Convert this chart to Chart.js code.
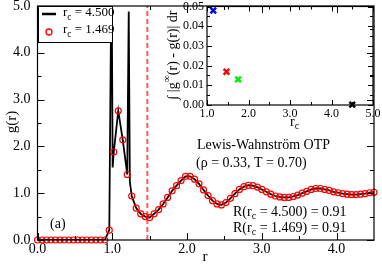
<!DOCTYPE html>
<html>
<head>
<meta charset="utf-8">
<script src="https://cdn.jsdelivr.net/npm/chart.js@4.4.1/dist/chart.umd.min.js"></script>
<style>
    html, body { margin: 0; padding: 0; background: #fff; }
    #wrap { position: relative; width: 382px; height: 264px; }
    #main { position: absolute; left: 0; top: 0; }
    #inset { position: absolute; left: 160px; top: 0; }
</style>
</head>
<body>
<div id="wrap">
    <canvas id="main" width="382" height="264"></canvas>
    <canvas id="inset" width="222" height="140"></canvas>
</div>
<script>
// g(r) sampled at the red circles (r_c = 1.469)
const rPts = [0.00,0.06,0.12,0.18,0.24,0.30,0.36,0.42,0.48,0.54,0.60,0.66,0.72,0.78,0.84,0.90,
    0.96,1.02,1.08,1.14,1.20,1.26,1.32,1.38,1.44,1.50,1.56,1.62,1.68,1.74,1.80,1.86,1.92,1.98,
    2.04,2.10,2.16,2.22,2.28,2.34,2.40,2.46,2.52,2.58,2.64,2.70,2.76,2.82,2.88,2.94,3.00,3.06,
    3.12,3.18,3.24,3.30,3.36,3.42,3.48,3.54,3.60,3.66,3.72,3.78,3.84,3.90,3.96,4.02,4.08,4.14,
    4.20,4.26,4.32,4.38,4.44,4.50];
const gPts = [0,0,0,0,0,0,0,0,0,0,0,0,0,0,0,0,
    0.21,1.88,2.76,2.14,1.40,0.94,0.68,0.56,0.50,0.48,0.56,0.65,0.77,0.91,1.05,1.16,1.27,1.36,
    1.36,1.30,1.20,1.07,0.95,0.84,0.77,0.75,0.80,0.89,0.99,1.08,1.14,1.17,1.16,1.13,1.08,1.03,
    0.98,0.94,0.92,0.91,0.91,0.93,0.96,1.00,1.04,1.08,1.10,1.10,1.08,1.06,1.03,1.01,0.99,0.98,
    0.97,0.97,0.98,0.99,1.01,1.02];
// extra spikes only in the r_c = 4.500 curve
const spikeR = [0.99, 1.005, 1.22, 1.235];
const spikeG = [6.0, 1.55, 4.88, 1.25];
const rcCut = 1.469;

// inset
const rcVals = [1.15, 1.469, 1.75, 4.5];
const devVals = [0.048, 0.0169, 0.0130, 0.0002];
const markColors = ["#0000ff", "#ff0000", "#00ee00", "#000000"];

// ticks
const xMajor = [0, 1, 2, 3, 4];
const xMinor = [0.5, 1.5, 2.5, 3.5];
const yMajor = [0, 1, 2, 3, 4, 5];
const yMinor = [0.5, 1.5, 2.5, 3.5, 4.5];
const inXMajor = [1, 2, 3, 4, 5];
const inXMinor = [1.5, 2.5, 3.5, 4.5];
const inYMajor = [0, 0.01, 0.02, 0.03, 0.04, 0.05];
const inYMinor = [0.005, 0.015, 0.025, 0.035, 0.045];

const FONT = "'Liberation Serif', 'DejaVu Serif', 'Times New Roman', serif";

// black curve = red samples + spikes, sorted by r
const blackPts = rPts.map((r, i) => ({x: r, y: gPts[i]}))
    .concat(spikeR.map((r, i) => ({x: r, y: spikeG[i]})))
    .sort((a, b) => a.x - b.x);

// text with sub/superscripts, returns width
function rich(ctx, parts, x, y, size, measureOnly) {
    let cx = x;
    parts.forEach(p => {
        const small = p.sub || p.sup;
        const s = small ? size * 0.72 : size;
        ctx.font = s + "px " + FONT;
        const dy = p.sub ? size * 0.32 : (p.sup ? -size * 0.38 : 0);
        if (!measureOnly) ctx.fillText(p.t, cx, y + dy);
        cx += ctx.measureText(p.t).width;
    });
    return cx - x;
}

function drawFrame(chart, xMaj, xMin, yMaj, yMin, maj, min) {
    const {ctx, chartArea: a, scales: {x, y}} = chart;
    ctx.save();
    ctx.strokeStyle = "#000";
    ctx.lineWidth = 1.2;
    ctx.strokeRect(a.left, a.top, a.right - a.left, a.bottom - a.top);
    ctx.lineWidth = 1;
    ctx.beginPath();
    const xt = (v, len) => {
        const px = Math.round(x.getPixelForValue(v)) + 0.5;
        ctx.moveTo(px, a.bottom); ctx.lineTo(px, a.bottom - len);
        ctx.moveTo(px, a.top); ctx.lineTo(px, a.top + len);
    };
    const yt = (v, len) => {
        const py = Math.round(y.getPixelForValue(v)) + 0.5;
        ctx.moveTo(a.left, py); ctx.lineTo(a.left + len, py);
        ctx.moveTo(a.right, py); ctx.lineTo(a.right - len, py);
    };
    xMaj.forEach(v => xt(v, maj)); xMin.forEach(v => xt(v, min));
    yMaj.forEach(v => yt(v, maj)); yMin.forEach(v => yt(v, min));
    ctx.stroke();
    ctx.restore();
}

const mainDecor = {
    id: "mainDecor",
    afterDraw(chart) {
        const ctx = chart.ctx;
        drawFrame(chart, xMajor, xMinor, yMajor, yMinor, 7, 4);
        ctx.save();
        ctx.fillStyle = "#000";
        ctx.textBaseline = "middle";

        // axis titles
        ctx.font = "15px " + FONT;
        ctx.textAlign = "center";
        ctx.fillText("r", 205, 257);
        ctx.save();
        ctx.translate(12, 122);
        ctx.rotate(-Math.PI / 2);
        ctx.fillText("g(r)", 0, 0);
        ctx.restore();

        ctx.textAlign = "left";
        ctx.font = "14px " + FONT;
        ctx.fillText("(a)", 50, 224);
        ctx.fillText("Lewis-Wahnstr\u00f6m OTP", 197, 145);
        ctx.fillText("(\u03c1 = 0.33, T = 0.70)", 196, 163);
        rich(ctx, [{t: "R(r"}, {t: "c", sub: true}, {t: " = 4.500) = 0.91"}], 233, 212, 14);
        rich(ctx, [{t: "R(r"}, {t: "c", sub: true}, {t: " = 1.469) = 0.91"}], 233, 228, 14);

        // legend
        ctx.fillStyle = "#fff";
        ctx.fillRect(38, 6, 75, 37);
        ctx.strokeStyle = "#000";
        ctx.lineWidth = 1;
        ctx.strokeRect(38.5, 6.5, 74, 36);
        ctx.lineWidth = 2.5;
        ctx.beginPath(); ctx.moveTo(42, 14); ctx.lineTo(56, 14); ctx.stroke();
        ctx.strokeStyle = "#ff0000";
        ctx.lineWidth = 1.3;
        ctx.beginPath(); ctx.arc(49, 32, 3, 0, Math.PI * 2); ctx.stroke();
        ctx.fillStyle = "#000";
        rich(ctx, [{t: "r"}, {t: "c", sub: true}, {t: " = 4.500"}], 63, 13, 13);
        rich(ctx, [{t: "r"}, {t: "c", sub: true}, {t: " = 1.469"}], 63, 30, 13);
        ctx.restore();
    }
};

const insetDecor = {
    id: "insetDecor",
    afterDraw(chart) {
        const ctx = chart.ctx;
        drawFrame(chart, inXMajor, inXMinor, inYMajor, inYMinor, 5, 3);
        ctx.save();
        ctx.fillStyle = "#000";
        ctx.textBaseline = "middle";
        rich(ctx, [{t: "r"}, {t: "c", sub: true}], 130, 122, 14);

        const parts = [{t: "\u222b |g"}, {t: "\u221e", sup: true}, {t: "(r) - g(r)| dr"}];
        const w = rich(ctx, parts, 0, 0, 14, true);
        ctx.save();
        ctx.translate(13, 55);
        ctx.rotate(-Math.PI / 2);
        rich(ctx, parts, -w / 2, 0, 14);
        ctx.restore();
        ctx.restore();
    }
};

function linScale(min, max, ticks, fmt, size, pad, fit) {
    return {
        type: "linear", min: min, max: max,
        grid: {display: false, drawTicks: false},
        border: {display: false},
        ticks: {
            color: "#000", font: {family: FONT, size: size}, padding: pad,
            autoSkip: false, maxRotation: 0,
            callback: v => v.toFixed(fmt)
        },
        afterBuildTicks: s => { s.ticks = ticks.map(v => ({value: v})); },
        afterFit: fit
    };
}

new Chart(document.getElementById("main"), {
    type: "scatter",
    data: {
        datasets: [
            {
                label: "r_c = 1.469",
                data: rPts.map((r, i) => ({x: r, y: gPts[i]})),
                pointStyle: "circle",
                pointRadius: 3,
                pointBorderWidth: 1.2,
                pointBorderColor: "#ff0000",
                pointBackgroundColor: "rgba(0,0,0,0)",
                clip: false,
                order: 0
            },
            {
                label: "r_c = 4.500",
                data: blackPts,
                showLine: true,
                borderColor: "#000",
                borderWidth: 1.8,
                pointRadius: 0,
                tension: 0,
                order: 1
            },
            {
                label: "cut",
                data: [{x: rcCut, y: 0}, {x: rcCut, y: 5}],
                showLine: true,
                borderColor: "#ff5a5a",
                borderWidth: 2,
                borderDash: [5, 3],
                pointRadius: 0,
                order: 2
            }
        ]
    },
    options: {
        responsive: false,
        devicePixelRatio: 1,
        animation: false,
        layout: {padding: {left: 0, top: 6, right: 8, bottom: 0}},
        plugins: {legend: {display: false}, tooltip: {enabled: false}},
        scales: {
            x: linScale(0, 4.5, xMajor, 1, 14, 1, s => { s.height = 24; s.paddingLeft = 0; s.paddingRight = 0; }),
            y: linScale(0, 5, yMajor, 1, 14, 7, s => { s.width = 37.5; s.paddingTop = 0; s.paddingBottom = 0; })
        }
    },
    plugins: [mainDecor]
});

new Chart(document.getElementById("inset"), {
    type: "scatter",
    data: {
        datasets: [{
            data: rcVals.map((r, i) => ({x: r, y: devVals[i]})),
            pointStyle: "crossRot",
            pointRadius: 4,
            pointBorderWidth: 2.5,
            pointBorderColor: markColors,
            pointBackgroundColor: markColors,
            clip: false
        }]
    },
    options: {
        responsive: false,
        devicePixelRatio: 1,
        animation: false,
        layout: {padding: {left: 0, top: 5, right: 9, bottom: 0}},
        plugins: {legend: {display: false}, tooltip: {enabled: false}},
        scales: {
            x: linScale(1, 5, inXMajor, 1, 12, 2, s => { s.height = 35; s.paddingLeft = 0; s.paddingRight = 0; }),
            y: linScale(0, 0.05, inYMajor, 2, 12, 3, s => { s.width = 47; s.paddingTop = 0; s.paddingBottom = 0; })
        }
    },
    plugins: [insetDecor]
});
</script>
</body>
</html>
